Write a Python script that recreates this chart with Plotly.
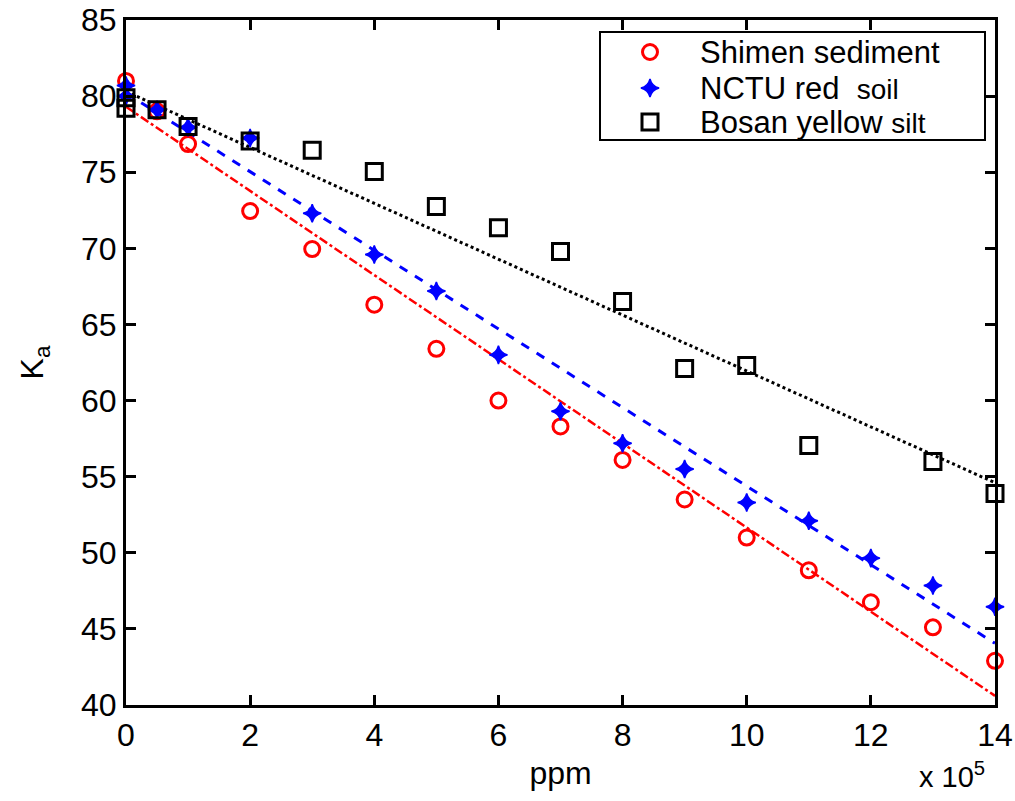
import plotly.graph_objects as go

# Data (x in units of 10^5 ppm)
shimen_x = [0, 0.5, 1, 2, 3, 4, 5, 6, 7, 8, 9, 10, 11, 12, 13, 14]
shimen_y = [81.0, 79.0, 76.85, 72.45, 69.95, 66.3, 63.4, 60.0, 58.3, 56.1, 53.5, 51.0, 48.85, 46.75, 45.1, 42.9]

nctu_x = [0, 0, 0.5, 1, 2, 3, 4, 5, 6, 7, 8, 9, 10, 11, 12, 13, 14]
nctu_y = [80.7, 80.0, 79.1, 77.95, 77.25, 72.3, 69.6, 67.2, 63.0, 59.3, 57.2, 55.5, 53.3, 52.1, 49.65, 47.85, 46.45]

bosan_x = [0, 0, 0.5, 1, 2, 3, 4, 5, 6, 7, 8, 9, 10, 11, 13, 14]
bosan_y = [79.9, 79.2, 79.1, 78.0, 77.05, 76.45, 75.05, 72.75, 71.35, 69.8, 66.5, 62.1, 62.3, 57.05, 56.0, 53.9]

fit_x = [0, 14]
shimen_fit = [79.3, 40.6]
nctu_fit = [80.2, 44.05]
bosan_fit = [80.3, 54.6]

x_ticks = [0, 2, 4, 6, 8, 10, 12, 14]
y_ticks = [40, 45, 50, 55, 60, 65, 70, 75, 80, 85]

legend_labels = ["Shimen sediment",
                 "NCTU red  <span style='font-size:28px'>soil</span>",
                 "Bosan yellow <span style='font-size:28px'>silt</span>"]

FONT = "Arial, Liberation Sans, sans-serif"

# plot area in pixels (for placing the legend frame)
L, R, T, B = 126, 995, 20, 705
PW, PH = R - L, B - T


def px(xp):
    return (xp - L) / PW


def py(yp):
    return (B - yp) / PH


styles = [
    dict(symbol="circle-open", size=15, color="red", line=dict(width=3, color="red")),
    dict(symbol="star-diamond", size=13, color="blue", line=dict(width=1.5, color="blue")),
    dict(symbol="square-open", size=16, color="black", line=dict(width=3, color="black")),
]

fig = go.Figure()

fig.add_trace(go.Scatter(x=fit_x, y=shimen_fit, mode="lines",
                         line=dict(color="red", width=2.5, dash="dashdot"),
                         showlegend=False, hoverinfo="skip"))
fig.add_trace(go.Scatter(x=fit_x, y=nctu_fit, mode="lines",
                         line=dict(color="blue", width=3, dash="dash"),
                         showlegend=False, hoverinfo="skip"))
fig.add_trace(go.Scatter(x=fit_x, y=bosan_fit, mode="lines",
                         line=dict(color="black", width=3, dash="dot"),
                         showlegend=False, hoverinfo="skip"))

for xs, ys, st, nm in zip([shimen_x, nctu_x, bosan_x], [shimen_y, nctu_y, bosan_y], styles,
                          ["Shimen sediment", "NCTU red soil", "Bosan yellow silt"]):
    fig.add_trace(go.Scatter(x=xs, y=ys, mode="markers", name=nm, marker=st,
                             showlegend=False, cliponaxis=False))

# legend frame (custom legend)
fig.add_shape(type="rect", xref="paper", yref="paper",
              x0=px(600), x1=px(985), y0=py(140), y1=py(32),
              line=dict(color="black", width=2), fillcolor="white", layer="below")

legend_rows = [52, 88, 122]
for row, st, lab in zip(legend_rows, styles, legend_labels):
    fig.add_trace(go.Scatter(x=[px(650)], y=[py(row)], xaxis="x2", yaxis="y2",
                             mode="markers", marker=st, showlegend=False,
                             hoverinfo="skip", cliponaxis=False))
    fig.add_annotation(x=px(698), y=py(row), xref="paper", yref="paper",
                       xanchor="left", yanchor="middle", showarrow=False, text=lab,
                       font=dict(family=FONT, size=31, color="black"))

axis_common = dict(showgrid=False, zeroline=False, showline=True, linecolor="black",
                   linewidth=3, mirror="allticks", ticks="inside", ticklen=10,
                   tickwidth=2.5, tickcolor="black", automargin=False,
                   tickfont=dict(family=FONT, size=32, color="black"))

fig.update_xaxes(range=[0, 14], tickvals=x_ticks, ticktext=[str(v) for v in x_ticks],
                 title=dict(text="ppm", font=dict(family=FONT, size=32, color="black"),
                            standoff=10),
                 **axis_common)
fig.update_yaxes(range=[40, 85], tickvals=y_ticks, ticktext=[str(v) for v in y_ticks],
                 title=dict(text="K<sub>a</sub>", font=dict(family=FONT, size=32, color="black"),
                            standoff=28),
                 **axis_common)

fig.add_annotation(x=1.0, y=0, xref="paper", yref="paper", xanchor="right", yanchor="top",
                   yshift=-50, xshift=-8, showarrow=False,
                   text="x 10<sup>5</sup>",
                   font=dict(family=FONT, size=29, color="black"))

fig.update_layout(
    width=1015, height=801,
    margin=dict(l=L, r=1015 - R, t=T, b=801 - B),
    paper_bgcolor="white", plot_bgcolor="white",
    font=dict(family=FONT, color="black"),
    showlegend=False,
    xaxis2=dict(overlaying="x", range=[0, 1], visible=False, fixedrange=True),
    yaxis2=dict(overlaying="y", range=[0, 1], visible=False, fixedrange=True),
)

fig.write_html("out.html")
